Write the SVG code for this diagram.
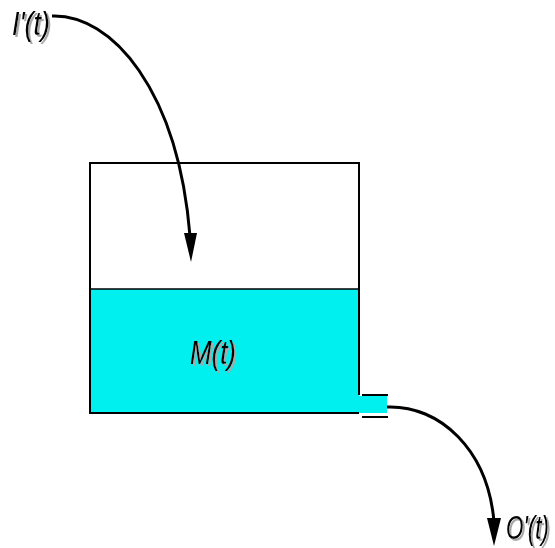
<svg xmlns="http://www.w3.org/2000/svg" width="555" height="548" viewBox="0 0 555 548">
<defs>
<filter id="shadow" filterUnits="userSpaceOnUse" x="0" y="0" width="555" height="548">
<feOffset in="SourceAlpha" dx="2" dy="2" result="o"/>
<feFlood flood-color="#a8a8a8"/>
<feComposite in2="o" operator="in" result="s"/>
<feMerge><feMergeNode in="s"/><feMergeNode in="SourceGraphic"/></feMerge>
</filter>
</defs>
<style>
.lbl{font-family:"Liberation Sans",Arial,sans-serif;font-style:italic;font-size:34px;fill:#000;filter:url(#shadow)}
.wall{stroke:#000;stroke-width:2;fill:none}
.flow{stroke:#000;stroke-width:3;fill:none}
</style>
<rect width="555" height="548" fill="#fff"/>
<g id="tank">
<rect x="90" y="289" width="269" height="124" fill="#00f0f0"/>
<rect x="359" y="396" width="28" height="17" fill="#00f0f0"/>
<polyline class="wall" points="359,395 359,163 90,163 90,413 359,413"/>
<line x1="90" y1="289" x2="359" y2="289" stroke="#000" stroke-width="1.5"/>
<line class="wall" x1="362" y1="395" x2="388" y2="395" stroke-width="3"/>
<line class="wall" x1="362" y1="417" x2="388" y2="417" stroke-width="3"/>
<text class="lbl" x="190" y="364" textLength="46" lengthAdjust="spacingAndGlyphs">M(t)</text>
</g>
<g id="input">
<text class="lbl" x="12" y="35" textLength="38" lengthAdjust="spacingAndGlyphs">I'(t)</text>
</g>
<g id="output">
<text class="lbl" x="549" y="539" text-anchor="end" style="font-size:33px" textLength="43" lengthAdjust="spacingAndGlyphs">O'(t)</text>
</g>
<g id="connectors">
<path class="flow" d="M52,16 C112,14 178,90 190,236"/>
<polygon points="191,262 184,233 197,233" fill="#000"/>
<path class="flow" d="M387,407 C440,405 488,450 494,522"/>
<polygon points="494,546 487,518 501,518" fill="#000"/>
</g>
</svg>
